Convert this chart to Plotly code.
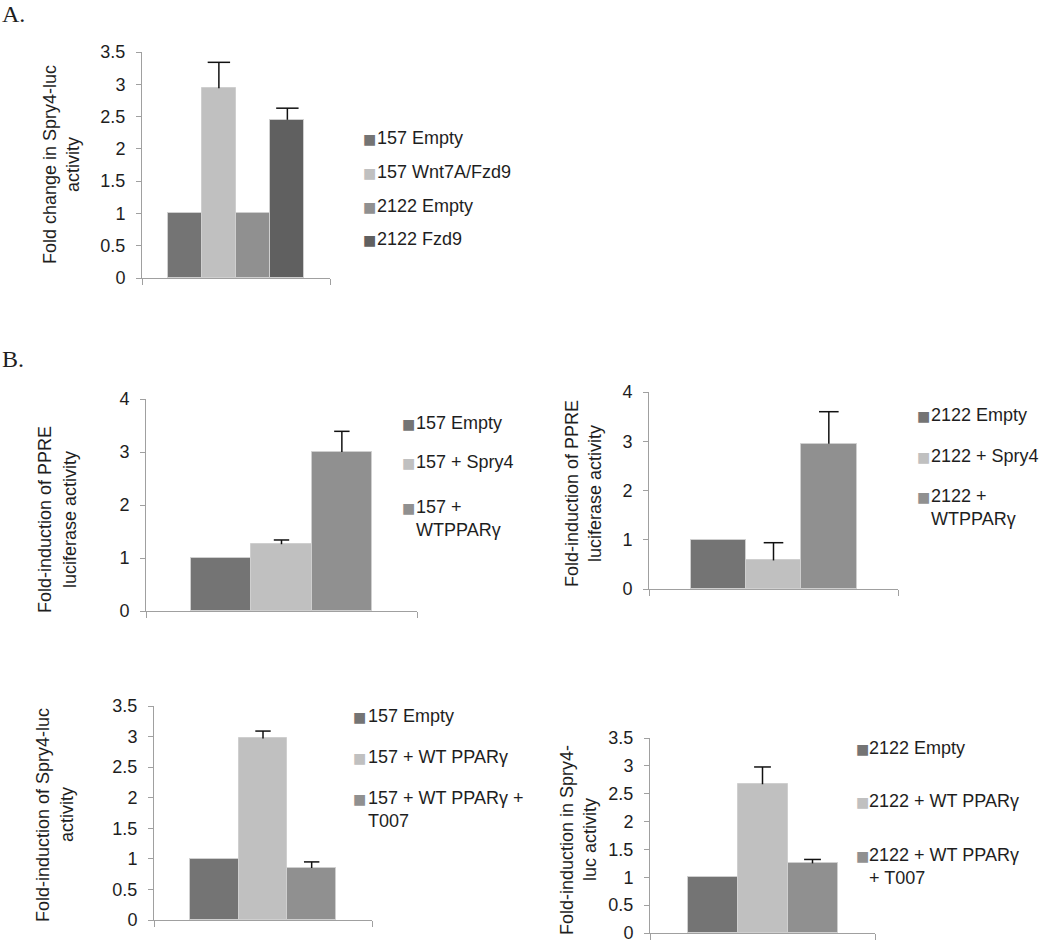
import plotly.graph_objects as go

W, H = 1050, 950

# ---- data ----
a_names = ["157 Empty", "157 Wnt7A/Fzd9", "2122 Empty", "2122 Fzd9"]
a_values = [1.0, 2.94, 1.0, 2.45]
a_errors = [None, 0.40, None, 0.18]

b1_names = ["157 Empty", "157 + Spry4", "157 +<br>WTPPARγ"]
b1_values = [1.0, 1.26, 3.0]
b1_errors = [None, 0.08, 0.39]

b2_names = ["2122 Empty", "2122 + Spry4", "2122 +<br>WTPPARγ"]
b2_values = [1.0, 0.58, 2.95]
b2_errors = [None, 0.36, 0.65]

b3_names = ["157 Empty", "157 + WT PPARγ", "157 + WT PPARγ +<br>T007"]
b3_values = [1.0, 2.97, 0.85]
b3_errors = [None, 0.12, 0.10]

b4_names = ["2122 Empty", "2122 + WT PPARγ", "2122 + WT PPARγ<br>+ T007"]
b4_values = [1.0, 2.67, 1.25]
b4_errors = [None, 0.31, 0.07]

colors4 = ["#747474", "#c0c0c0", "#909090", "#606060"]
colors3 = ["#747474", "#c0c0c0", "#909090"]

SANS = "Liberation Sans, Arial, sans-serif"
TXT = "#1e1e1e"
AXC = "#a0a0a0"


def px_x(v):
    return v / W


def px_y(v):
    return 1 - v / H


# layout of each panel, in pixels of the 1050x950 picture
panels = [
    dict(names=a_names, values=a_values, errors=a_errors, colors=colors4,
         xd=(142, 330), yd=(52, 278), ymax=3.5, dtick=0.5, span=5.49, cap=16,
         title=["Fold change in Spry4-luc", "activity"], tx=(50, 73), ty=165,
         sq_x=369, txt_x=375, rows=[138, 172, 206, 239]),
    dict(names=b1_names, values=b1_values, errors=b1_errors, colors=colors3,
         xd=(146, 417), yd=(399, 611), ymax=4, dtick=1, span=4.49, cap=11,
         title=["Fold-induction of PPRE", "luciferase activity"], tx=(45, 70), ty=520,
         sq_x=408, txt_x=414, rows=[423, 462, 507]),
    dict(names=b2_names, values=b2_values, errors=b2_errors, colors=colors3,
         xd=(649, 898), yd=(392, 589), ymax=4, dtick=1, span=4.5, cap=14,
         title=["Fold-induction of PPRE", "luciferase activity"], tx=(572, 595), ty=494,
         sq_x=923, txt_x=929, rows=[415, 456, 496]),
    dict(names=b3_names, values=b3_values, errors=b3_errors, colors=colors3,
         xd=(154, 372), yd=(706, 920), ymax=3.5, dtick=0.5, span=4.48, cap=11,
         title=["Fold-induction of Spry4-luc", "activity"], tx=(43, 67), ty=815,
         sq_x=359, txt_x=366, rows=[716, 757, 798]),
    dict(names=b4_names, values=b4_values, errors=b4_errors, colors=colors3,
         xd=(650, 875), yd=(738, 933), ymax=3.5, dtick=0.5, span=4.5, cap=12,
         title=["Fold-induction in Spry4-", "luc activity"], tx=(567, 590), ty=840,
         sq_x=862, txt_x=867, rows=[748, 801, 855]),
]

fig = go.Figure()
annotations = []

for i, p in enumerate(panels):
    k = "" if i == 0 else str(i + 1)
    cats = [n.replace("<br>", " ") for n in p["names"]]
    errs = [e if e else 0 for e in p["errors"]]

    fig.add_trace(go.Bar(
        x=cats, y=p["values"],
        marker=dict(color=p["colors"], line=dict(color="#cfcfcf", width=1)),
        error_y=dict(type="data", symmetric=False, array=errs,
                     arrayminus=[0] * len(errs), color="#111111",
                     thickness=1.5, width=0),
        xaxis="x" + k, yaxis="y" + k, hoverinfo="x+y",
    ))
    # caps on top of the error bars
    cx = [c for c, e in zip(cats, p["errors"]) if e]
    cy = [v + e for v, e in zip(p["values"], p["errors"]) if e]
    fig.add_trace(go.Scatter(
        x=cx, y=cy, mode="markers",
        marker=dict(symbol="line-ew", size=p["cap"], color="#111111",
                    line=dict(color="#111111", width=1.5)),
        xaxis="x" + k, yaxis="y" + k, hoverinfo="skip", cliponaxis=False,
    ))

    n = len(cats)
    mid = (n - 1) / 2
    lo, hi = mid - p["span"] / 2, mid + p["span"] / 2
    fig.update_layout(**{
        "xaxis" + k: dict(
            domain=[px_x(p["xd"][0]), px_x(p["xd"][1])],
            anchor="y" + k, type="category", categoryorder="array",
            categoryarray=cats, range=[lo, hi],
            tickvals=[lo, hi], showticklabels=False,
            ticks="outside", ticklen=6, tickcolor=AXC,
            showline=True, linecolor=AXC, linewidth=1,
            showgrid=False, zeroline=False, fixedrange=True, automargin=False,
        ),
        "yaxis" + k: dict(
            domain=[px_y(p["yd"][1]), px_y(p["yd"][0])],
            anchor="x" + k, range=[0, p["ymax"]], dtick=p["dtick"],
            ticks="outside", ticklen=5, tickcolor=AXC,
            showline=True, linecolor=AXC, linewidth=1,
            showgrid=False, zeroline=False, ticklabelstandoff=7,
            tickfont=dict(family=SANS, size=18, color=TXT), automargin=False,
        ),
    })

    # two-line rotated axis title
    for line, xx in zip(p["title"], p["tx"]):
        annotations.append(dict(
            text=line, x=px_x(xx), y=px_y(p["ty"]), xref="paper", yref="paper",
            xanchor="center", yanchor="middle", textangle=-90, showarrow=False,
            font=dict(family=SANS, size=18, color=TXT),
        ))

    # legend: colored square + label lines
    for name, col, row in zip(p["names"], p["colors"], p["rows"]):
        annotations.append(dict(
            text="■", x=px_x(p["sq_x"]), y=px_y(row + 1), xref="paper", yref="paper",
            xanchor="center", yanchor="middle", showarrow=False,
            font=dict(family="DejaVu Sans", size=14, color=col),
        ))
        for j, line in enumerate(name.split("<br>")):
            annotations.append(dict(
                text=line, x=px_x(p["txt_x"]), y=px_y(row + j * 23),
                xref="paper", yref="paper", xanchor="left", yanchor="middle",
                showarrow=False, font=dict(family=SANS, size=18, color=TXT),
            ))

# panel letters ("A." sits against the top edge, so anchor its box there)
letters = [("A.", 0, "top"), ("B.", 359, "middle")]
for label, yy, anchor in letters:
    annotations.append(dict(
        text=label, x=px_x(1), y=px_y(yy), xref="paper", yref="paper",
        xanchor="left", yanchor=anchor, showarrow=False, borderpad=0,
        font=dict(family="Liberation Serif, Times New Roman, serif", size=24, color=TXT),
    ))

fig.update_layout(
    width=W, height=H,
    # autoexpand off: the letters near the edge must not shrink the panels
    margin=dict(l=0, r=0, t=0, b=0, autoexpand=False),
    paper_bgcolor="white", plot_bgcolor="white",
    bargap=0,
    showlegend=False,
    annotations=annotations,
)

# the page body has a default 8px margin; drop it so the figure sits at 0,0
fig.write_html("out.html", config={"displayModeBar": False},
               post_script="document.body.style.margin = '0';")
